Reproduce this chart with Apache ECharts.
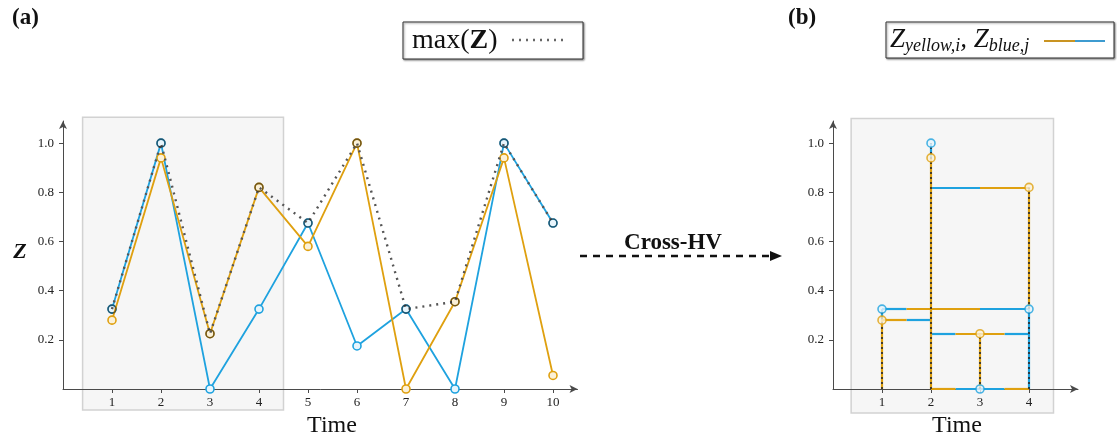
<!DOCTYPE html>
<html><head><meta charset="utf-8">
<script src="https://cdn.jsdelivr.net/npm/echarts@6/dist/echarts.min.js"></script>
<style>html,body{margin:0;padding:0;background:#fff}#c{width:1117px;height:439px}</style>
</head><body><div id="c"></div>
<script>
// ---- data (a) ----
const timeA = [1, 2, 3, 4, 5, 6, 7, 8, 9, 10];
const blueA = [0.325, 1.0, 0.0, 0.325, 0.675, 0.175, 0.325, 0.0, 1.0, 0.675];
const yellowA = [0.28, 0.94, 0.225, 0.82, 0.58, 1.0, 0.0, 0.355, 0.94, 0.055];
const maxA = [0.325, 1.0, 0.225, 0.82, 0.675, 1.0, 0.325, 0.355, 1.0, 0.675];
const yTicks = [0.2, 0.4, 0.6, 0.8, 1.0];
// ---- data (b) ----
const timeB = [1, 2, 3, 4];
const blueB = [0.325, 1.0, 0.0, 0.325];
const yellowB = [0.28, 0.94, 0.225, 0.82];
const blueSegB = [
  [1, 0.325, 1.5, 0.325], [3, 0.325, 4, 0.325], [1.5, 0.28, 2, 0.28],
  [2, 0.82, 3, 0.82], [2, 0.225, 2.5, 0.225], [3.5, 0.225, 4, 0.225],
  [2.5, 0, 3.5, 0], [1, 0.28, 1, 0.325], [2, 0.94, 2, 1.0], [4, 0, 4, 0.325]
];
const yellowSegB = [
  [1.5, 0.325, 3, 0.325], [1, 0.28, 1.5, 0.28], [3, 0.82, 4, 0.82],
  [2.5, 0.225, 3.5, 0.225], [2, 0, 2.5, 0], [3.5, 0, 4, 0],
  [1, 0, 1, 0.28], [2, 0, 2, 0.94], [3, 0, 3, 0.225], [4, 0.325, 4, 0.82]
];
const stemsB = [[1, 0, 1, 0.325], [2, 0, 2, 1.0], [3, 0, 3, 0.225], [4, 0, 4, 0.82]];

const BLUE = '#1ea2df', YEL = '#dfa00f', AX = '#4a4a4a';
const serif = '"Liberation Serif", "DejaVu Serif", serif';

function xAxisCfg(gi, max, ticks) {
  return {
    type: 'value', gridIndex: gi, min: 0, max: max,
    axisLine: { onZero: false, lineStyle: { color: AX, width: 1 }, symbol: ['none', 'arrow'], symbolSize: [6, 8] },
    axisTick: { customValues: ticks, length: 4, lineStyle: { color: AX } },
    axisLabel: { customValues: ticks, fontFamily: serif, fontSize: 13, color: '#222', margin: 7 },
    splitLine: { show: false }
  };
}
function yAxisCfg(gi) {
  return {
    type: 'value', gridIndex: gi, min: 0, max: 1.09,
    axisLine: { show: true, onZero: false, lineStyle: { color: AX, width: 1 }, symbol: ['none', 'arrow'], symbolSize: [6, 8] },
    axisTick: { show: true, customValues: yTicks, length: 4, lineStyle: { color: AX } },
    axisLabel: { customValues: yTicks, fontFamily: serif, fontSize: 13, color: '#222', margin: 9,
      formatter: v => v.toFixed(1) },
    splitLine: { show: false }
  };
}
const mk = (col, fill) => ({ color: fill, borderColor: col, borderWidth: 1.6 });
const segs = arr => arr.map(s => ({ coords: [[s[0], s[1]], [s[2], s[3]]] }));

const chart = echarts.init(document.getElementById('c'), null, { renderer: 'canvas' });
chart.setOption({
  animation: false,
  backgroundColor: '#fff',
  grid: [
    { left: 63, top: 121, width: 514.5, height: 268 },
    { left: 833, top: 121, width: 245, height: 268 }
  ],
  xAxis: [xAxisCfg(0, 10.5, timeA), xAxisCfg(1, 5, timeB)],
  yAxis: [yAxisCfg(0), yAxisCfg(1)],
  series: [
    { type: 'line', xAxisIndex: 0, yAxisIndex: 0, z: 2,
      data: timeA.map((t, i) => [t, blueA[i]]),
      symbol: 'circle', symbolSize: 8, showAllSymbol: true,
      lineStyle: { color: BLUE, width: 1.8 }, itemStyle: mk(BLUE, '#e8f5fc') },
    { type: 'line', xAxisIndex: 0, yAxisIndex: 0, z: 3,
      data: timeA.map((t, i) => [t, yellowA[i]]),
      symbol: 'circle', symbolSize: 8, showAllSymbol: true,
      lineStyle: { color: YEL, width: 1.8 }, itemStyle: mk(YEL, '#fbf1d8') },
    { type: 'line', xAxisIndex: 0, yAxisIndex: 0, z: 4,
      data: timeA.map((t, i) => [t, maxA[i]]),
      symbol: 'circle', symbolSize: 8, showAllSymbol: true,
      lineStyle: { color: '#555', width: 2.4, type: [2, 5] },
      itemStyle: { color: 'rgba(0,0,0,0)', borderColor: 'rgba(25,25,25,0.55)', borderWidth: 1.6 } },
    { type: 'lines', coordinateSystem: 'cartesian2d', xAxisIndex: 1, yAxisIndex: 1, z: 2,
      data: segs(blueSegB), lineStyle: { color: BLUE, width: 2.2, opacity: 1 } },
    { type: 'lines', coordinateSystem: 'cartesian2d', xAxisIndex: 1, yAxisIndex: 1, z: 2,
      data: segs(yellowSegB), lineStyle: { color: YEL, width: 2.2, opacity: 1 } },
    { type: 'lines', coordinateSystem: 'cartesian2d', xAxisIndex: 1, yAxisIndex: 1, z: 3,
      data: segs(stemsB), lineStyle: { color: '#2a2a2a', width: 2, type: [2, 3], opacity: 0.85 } },
    { type: 'scatter', xAxisIndex: 1, yAxisIndex: 1, z: 5, symbol: 'circle', symbolSize: 8,
      data: timeB.map((t, i) => [t, blueB[i]]), itemStyle: mk(BLUE, '#e8f5fc') },
    { type: 'scatter', xAxisIndex: 1, yAxisIndex: 1, z: 5, symbol: 'circle', symbolSize: 8,
      data: timeB.map((t, i) => [t, yellowB[i]]), itemStyle: mk(YEL, '#fbf1d8') }
  ]
});

function rectFor(gi, x0, y0, x1, y1) {
  const a = chart.convertToPixel({ gridIndex: gi }, [x0, y0]);
  const b = chart.convertToPixel({ gridIndex: gi }, [x1, y1]);
  return { type: 'rect', z: -5, silent: true,
    shape: { x: a[0], y: a[1], width: b[0] - a[0], height: b[1] - a[1] },
    style: { fill: '#f6f6f6', stroke: '#d2d2d2', lineWidth: 1.5 } };
}
const boxStyle = { fill: '#fff', stroke: '#333', lineWidth: 1, shadowBlur: 2, shadowOffsetX: 1, shadowOffsetY: 1, shadowColor: 'rgba(0,0,0,0.45)' };

chart.setOption({
  graphic: [
    rectFor(0, 0.4, 1.105, 4.5, -0.085),
    rectFor(1, 0.37, 1.1, 4.5, -0.098),
    { type: 'text', x: 12, y: 18, style: { text: '(a)', font: 'bold 23px ' + serif, fill: '#111', verticalAlign: 'middle' } },
    { type: 'text', x: 788, y: 18, style: { text: '(b)', font: 'bold 23px ' + serif, fill: '#111', verticalAlign: 'middle' } },
    { type: 'text', x: 20, y: 252, style: { text: 'Z', font: 'italic bold 22px ' + serif, fill: '#111', align: 'center', verticalAlign: 'middle' } },
    { type: 'text', x: 332, y: 426, style: { text: 'Time', font: '24px ' + serif, fill: '#111', align: 'center', verticalAlign: 'middle' } },
    { type: 'text', x: 957, y: 426, style: { text: 'Time', font: '24px ' + serif, fill: '#111', align: 'center', verticalAlign: 'middle' } },
    // legend (a)
    { type: 'rect', shape: { x: 403, y: 22, width: 180, height: 37 }, style: boxStyle },
    { type: 'text', x: 412, y: 41, style: {
      text: '{r|max(}{b|Z}{r|)}', verticalAlign: 'middle',
      rich: { r: { fontFamily: serif, fontSize: 28, fill: '#111' }, b: { fontFamily: serif, fontSize: 28, fontWeight: 'bold', fill: '#111' } } } },
    { type: 'line', shape: { x1: 512, y1: 40, x2: 568, y2: 40 }, style: { stroke: '#666', lineWidth: 2.4, lineDash: [2, 5] } },
    // legend (b)
    { type: 'rect', shape: { x: 886, y: 22, width: 228, height: 36 }, style: boxStyle },
    { type: 'text', x: 890, y: 40, style: {
      text: '{z|Z}{s|yellow,i}{z|, Z}{s|blue,j}', verticalAlign: 'middle',
      rich: {
        z: { fontFamily: serif, fontSize: 27, fontStyle: 'italic', fill: '#111', lineHeight: 30 },
        s: { fontFamily: serif, fontSize: 18, fontStyle: 'italic', fill: '#111', lineHeight: 18, verticalAlign: 'bottom' }
      } } },
    { type: 'line', shape: { x1: 1044, y1: 41, x2: 1075, y2: 41 }, style: { stroke: '#c99422', lineWidth: 2 } },
    { type: 'line', shape: { x1: 1075, y1: 41, x2: 1105, y2: 41 }, style: { stroke: '#3d9bd0', lineWidth: 2 } },
    // arrow
    { type: 'text', x: 673, y: 243, style: { text: 'Cross-HV', font: 'bold 23px ' + serif, fill: '#111', align: 'center', verticalAlign: 'middle' } },
    { type: 'line', shape: { x1: 580, y1: 256, x2: 770, y2: 256 }, style: { stroke: '#111', lineWidth: 2.5, lineDash: [7, 6] } },
    { type: 'polygon', shape: { points: [[770, 251], [782, 256], [770, 261]] }, style: { fill: '#111' } }
  ]
});
</script></body></html>
